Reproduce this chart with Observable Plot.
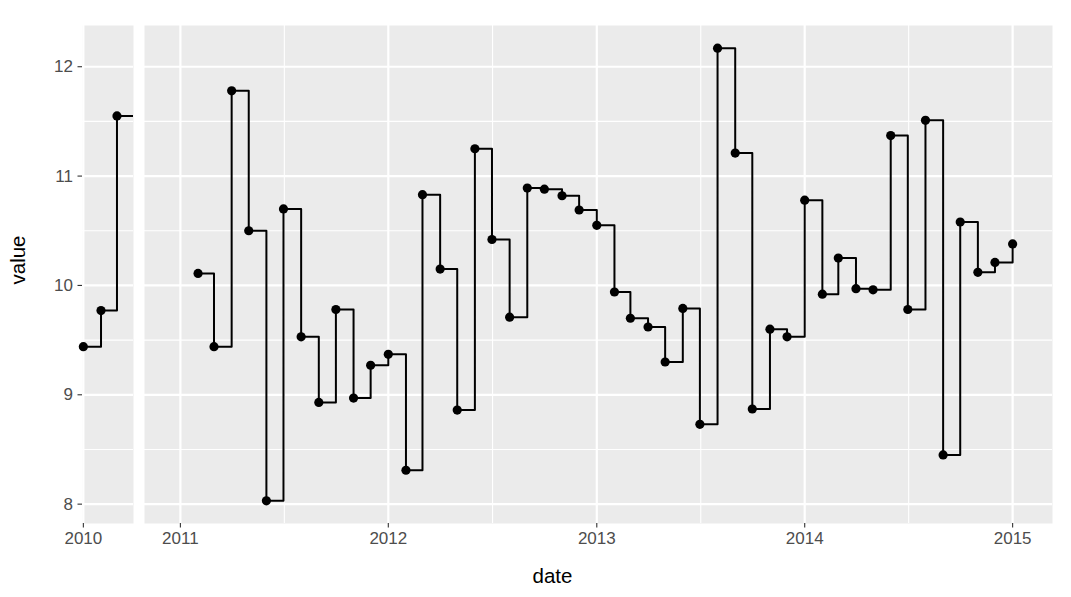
<!DOCTYPE html>
<html>
<head>
<meta charset="utf-8">
<script src="https://cdn.jsdelivr.net/npm/d3@7"></script>
<script src="https://cdn.jsdelivr.net/npm/@observablehq/plot@0.6"></script>
<style>
  html, body { margin: 0; padding: 0; background: #ffffff; }
  #chart { display: flex; flex-direction: row; width: 1071px; height: 597px; }
  #chart svg { display: block; }
</style>
</head>
<body>
<div id="chart"></div>
<script>
// ---- data (monthly, first of month) ----
const startMonth = "2010-01-01";
const endMonth = "2015-02-01"; // exclusive
const values = [
  // 2010
  9.44, 9.77, 11.55, null, null, null, null, null, null, null, null, null,
  // 2011
  null, 10.11, 9.44, 11.78, 10.50, 8.03, 10.70, 9.53, 8.93, 9.78, 8.97, 9.27,
  // 2012
  9.37, 8.31, 10.83, 10.15, 8.86, 11.25, 10.42, 9.71, 10.89, 10.88, 10.82, 10.69,
  // 2013
  10.55, 9.94, 9.70, 9.62, 9.30, 9.79, 8.73, 12.17, 11.21, 8.87, 9.60, 9.53,
  // 2014
  10.78, 9.92, 10.25, 9.97, 9.96, 11.37, 9.78, 11.51, 8.45, 10.58, 10.12, 10.21,
  // 2015
  10.38
];
const leftTickYears = ["2010-01-01"];
const rightTickYears = ["2011-01-01", "2012-01-01", "2013-01-01", "2014-01-01", "2015-01-01"];
const rightMinorX = ["2011-07-02T12:00", "2012-07-02", "2013-07-02T12:00", "2014-07-02T12:00"];
const yMajor = [8, 9, 10, 11, 12];
const yMinor = [8.5, 9.5, 10.5, 11.5];
const leftDomain = ["2009-12-30T12:00", "2010-03-30"];
const rightDomain = ["2010-10-30", "2015-03-12"];

// ---- derived tables ----
const months = d3.utcMonth.range(new Date(startMonth), new Date(endMonth));
const data = months.map((d, i) => ({date: d, value: values[i]}));
// stair-step path like ggplot geom_step (direction "hv")
const stairs = [];
data.forEach((d, i) => {
  stairs.push({date: d.date, value: d.value});
  if (i < data.length - 1) stairs.push({date: data[i + 1].date, value: d.value});
});
const defined = data.filter(d => d.value != null);
const [vmin, vmax] = d3.extent(defined, d => d.value);
const pad = (vmax - vmin) * 0.05;
const yDomain = [vmin - pad, vmax + pad];
const toDate = s => new Date(s.length <= 10 ? s + "T00:00Z" : s + "Z");

const font = "'Liberation Sans', Arial, sans-serif";
const H = 597, MT = 25, MB = 74;

function panel({width, marginLeft, marginRight, domain, ticks, minor, showY, extra}) {
  return Plot.plot({
    width, height: H, marginTop: MT, marginBottom: MB, marginLeft, marginRight,
    style: {fontFamily: font, fontSize: "17px", color: "#4d4d4d", background: "transparent", overflow: "visible"},
    x: {type: "utc", domain: domain.map(toDate), label: null, axis: null},
    y: {domain: yDomain, label: null, axis: null},
    marks: [
      Plot.frame({fill: "#ebebeb", stroke: "none"}),
      Plot.gridY(yMinor, {stroke: "#ffffff", strokeOpacity: 1, strokeWidth: 1.1}),
      Plot.gridX(minor.map(toDate), {stroke: "#ffffff", strokeOpacity: 1, strokeWidth: 1.1}),
      Plot.gridY(yMajor, {stroke: "#ffffff", strokeOpacity: 1, strokeWidth: 2.2}),
      Plot.gridX(ticks.map(toDate), {stroke: "#ffffff", strokeOpacity: 1, strokeWidth: 2.2}),
      showY ? Plot.axisY(yMajor, {tickSize: 4.5, tickPadding: 5, stroke: "#333333", strokeWidth: 1.1, fill: "#4d4d4d", fontSize: 17, label: null, tickFormat: d => String(d)}) : null,
      Plot.axisX(ticks.map(toDate), {tickSize: 4.5, tickPadding: 4, stroke: "#333333", strokeWidth: 1.1, fill: "#4d4d4d", fontSize: 17, label: null, tickFormat: d3.utcFormat("%Y")}),
      Plot.line(stairs, {x: "date", y: "value", stroke: "#000000", strokeWidth: 2, clip: true}),
      Plot.dot(defined.filter(d => d.date >= toDate(domain[0]) && d.date <= toDate(domain[1])), {x: "date", y: "value", fill: "#000000", stroke: "none", r: 4.6}),
      ...(extra || [])
    ]
  });
}

const left = panel({
  width: 138, marginLeft: 82, marginRight: 5,
  domain: leftDomain, ticks: leftTickYears, minor: [], showY: true,
  extra: [
    Plot.text(["value"], {frameAnchor: "left", rotate: -90, dx: -64, dy: 10, fontSize: 20.5, fill: "#000000", text: d => d})
  ]
});
const right = panel({
  width: 933, marginLeft: 6, marginRight: 19,
  domain: rightDomain, ticks: rightTickYears, minor: rightMinorX, showY: false,
  extra: [
    Plot.text(["date"], {frameAnchor: "bottom", dx: -46, dy: 59, fontSize: 20.5, fill: "#000000", text: d => d})
  ]
});
const chart = document.getElementById("chart");
chart.appendChild(left);
chart.appendChild(right);
</script>
</body>
</html>
